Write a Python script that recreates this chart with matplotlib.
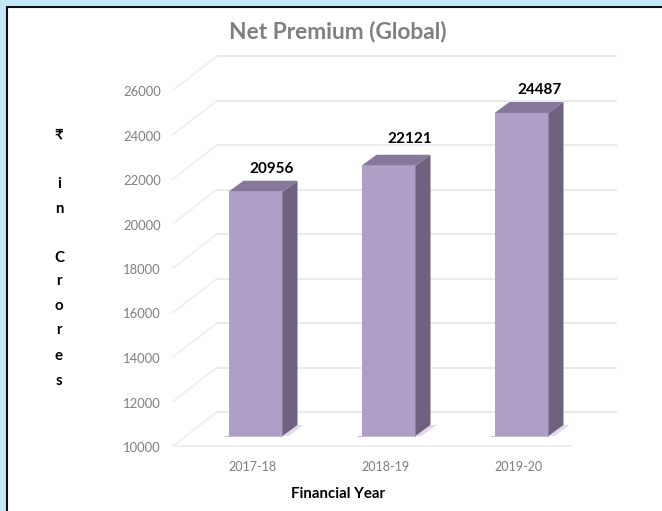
import numpy as np
import matplotlib
matplotlib.use("Agg")
import matplotlib.pyplot as plt
from matplotlib.patches import Polygon, Rectangle

FIG_W = 662
FIG_H = 511

years = ["2017-18", "2018-19", "2019-20"]
premium = [20956, 22121, 24487]
y_ticks = [10000, 12000, 14000, 16000, 18000, 20000, 22000, 24000, 26000]
y_label_chars = ["₹", "", "i", "n", "", "C", "r", "o", "r", "e", "s"]

plt.rcParams["font.family"] = ["Lato", "Noto Sans", "DejaVu Sans"]

fig = plt.figure(figsize=(FIG_W / 100, FIG_H / 100), dpi=100, facecolor="#c4e8f9")

# white panel, runs off the right and bottom of the picture
panel = Rectangle((7 / FIG_W, -0.05), 1, 1.05 - 7 / FIG_H, transform=fig.transFigure,
                  facecolor="white", edgecolor="#111111", linewidth=1.5, zorder=-1)
fig.add_artist(panel)

# axes is the front plane of the fake 3d box
left, right, top, bottom = 173, 572, 90, 446
ax = fig.add_axes([left / FIG_W, 1 - bottom / FIG_H, (right - left) / FIG_W, (bottom - top) / FIG_H])
ax.set_xlim(-0.5, 2.5)
ax.set_ylim(10000, 26000)
ax.axis("off")

sx = 3 / (right - left)
sy = 16000 / (bottom - top)

gx = 44 * sx
gy = 34 * sy
for t in y_ticks:
    ax.plot([-0.5, -0.5 + gx], [t, t + gy], color="#f1f1f1", lw=1.5, clip_on=False)
    ax.plot([-0.5 + gx, 2.5 + gx], [t + gy, t + gy], color="#ebebeb", lw=1.5, clip_on=False)
    ax.text(-0.5 - 12 * sx, t - 2 * sy, str(t), ha="right", va="center", fontsize=9.4, color="#7f7f7f")
ax.plot([-0.5, 2.5], [10000, 10000], color="#efefef", lw=1.5, clip_on=False)

# bars
bar_w = 54 * sx
shift_x = 16 * sx
base = 10000 + 10 * sy
scale = (323 / 14487) * sy
dep_x = 15 * sx
dep_y = 11 * sy
label_dx = [16, 21, 18]
label_dy = [16, 20, 16]
for i, v in enumerate(premium):
    x0 = i + shift_x - bar_w / 2
    x1 = x0 + bar_w
    y1 = base + (v - 10000) * scale
    # shadow on the floor
    ax.add_patch(Polygon([(x1, base), (x1 + dep_x, base + dep_y), (x1 + dep_x + 6 * sx, base + dep_y),
                          (x1 + 6 * sx, base)], facecolor="#e2dae8", edgecolor="none",
                         clip_on=False, zorder=2))
    ax.add_patch(Polygon([(x0 - 4 * sx, base - 1 * sy), (x1, base - 1 * sy), (x1, base), (x0 - 4 * sx, base)],
                         facecolor="#c4bbd3", edgecolor="none", clip_on=False, zorder=2))
    ax.bar(i + shift_x, y1 - base, width=bar_w, bottom=base, color="#ae9fc6", zorder=3)
    ax.add_patch(Polygon([(x1, base), (x1 + dep_x, base + dep_y), (x1 + dep_x, y1 + dep_y), (x1, y1)],
                         facecolor="#6f6280", edgecolor="none", clip_on=False, zorder=3))
    ax.add_patch(Polygon([(x0, y1), (x0 + dep_x, y1 + dep_y), (x1 + dep_x, y1 + dep_y), (x1, y1)],
                         facecolor="#85789a", edgecolor="none", clip_on=False, zorder=3))
    ax.text(i + shift_x + label_dx[i] * sx, y1 + label_dy[i] * sy, str(v), ha="center", va="bottom",
            fontsize=11, fontweight="bold", color="black", zorder=5)
    ax.text(i + shift_x - 3.5 * sx, 10000 - 21 * sy, years[i], ha="center", va="center", fontsize=9,
            color="#7f7f7f")

fig.text(338 / FIG_W, 1 - 32 / FIG_H, "Net Premium (Global)", ha="center", va="center", fontsize=16.4,
         fontweight="bold", color="#7f7f7f")
fig.text(338 / FIG_W, 1 - 494 / FIG_H, "Financial Year", ha="center", va="center", fontsize=10.8,
         fontweight="bold", color="black")

char_y = [136, 0, 184, 209, 0, 258, 281, 306, 330, 356, 381]
for c, py in zip(y_label_chars, char_y):
    if c:
        fig.text(59 / FIG_W, 1 - py / FIG_H, c, ha="center", va="center", fontsize=10.8,
                 fontweight="bold", color="black")

fig.savefig("out.png", dpi=100, facecolor=fig.get_facecolor())
